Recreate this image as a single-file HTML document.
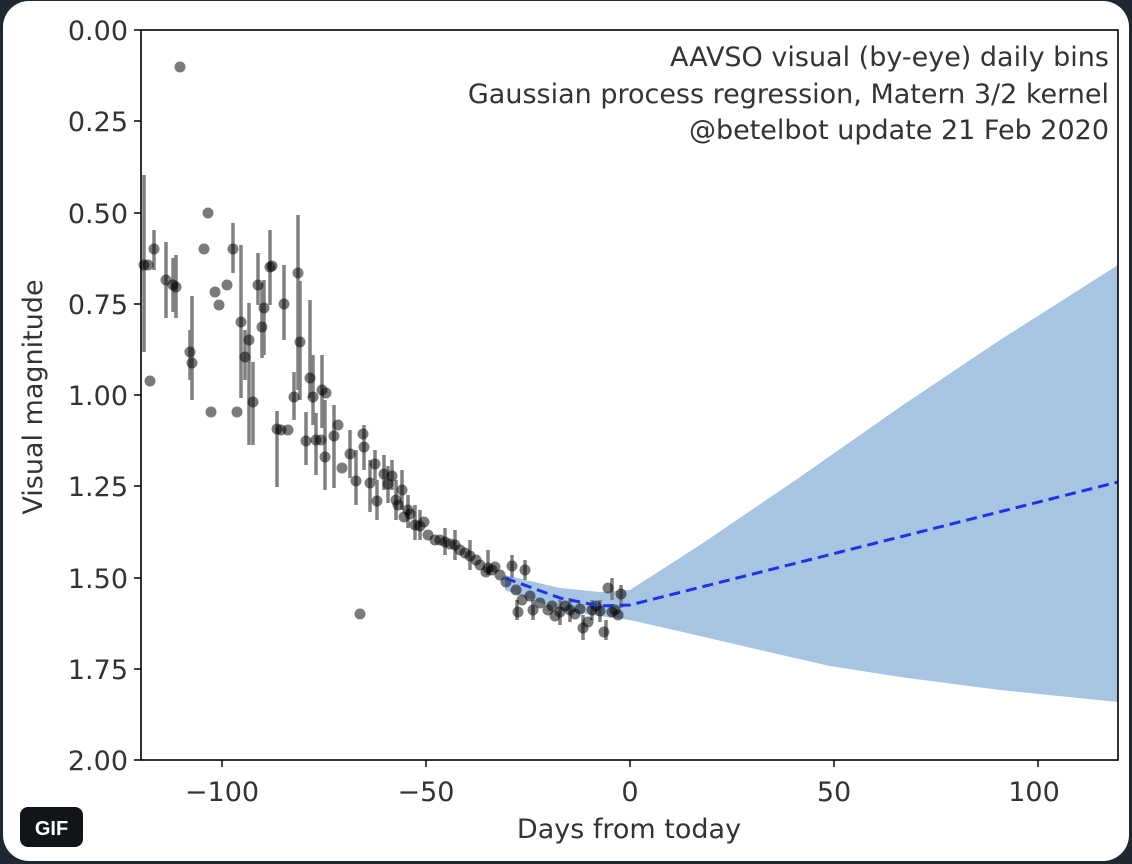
<!DOCTYPE html>
<html><head><meta charset="utf-8"><style>
html,body{margin:0;padding:0;background:#1e2732;width:1132px;height:864px;overflow:hidden}
</style></head><body>
<svg width="1132" height="864" xmlns="http://www.w3.org/2000/svg" font-family="DejaVu Sans, Liberation Sans, sans-serif">
<rect x="3" y="1" width="1126" height="860" rx="26" fill="#ffffff"/>
<path d="M505,575 L560,588 L600,592 L630,590 L700,545 L800,477 L900,407 L1000,340 L1118,265 L1118,702 L1000,690 L900,677 L830,666 L760,650 L700,636 L630,620 L600,616 L560,610 L505,590 Z" fill="#a7c4e2"/>
<g stroke="#808080" stroke-width="3.5" fill="none">
<path d="M144,175V352M154,230V270M166,242V318M173,258V312M176,255V318M192,296V400M190,330V380M233,223V273M241,245V398M249,303V445M245,330V380M253,362V445M258,253V305M262,283V358M264,280V355M270,230V305M284,265V340M298,215V390M300,281V400M310,300V398M294,372V420M277,411V487M306,412V465M316,413V475M325,400V490M322,355V428M334,405V488M313,355V425M350,430V478M356,450V505M364,425V470M370,460V512M375,450V480M377,480V520M384,455V490M388,466V503M392,460V490M396,480V520M402,470V510M408,495V528M415,505V540M420,510V540M445,528V555M455,530V560M470,540V570M488,550V575M512,555V578M525,560V580M517,600V620M533,600V620M560,600V625M570,598V622M583,615V640M592,600V620M600,600V622M606,620V640M612,578V600M621,585V608"/>
</g>
<g fill="rgba(0,0,0,0.52)">
<circle cx="144" cy="265" r="5.5"/><circle cx="148" cy="265" r="5.5"/><circle cx="154" cy="249" r="5.5"/><circle cx="150" cy="381" r="5.5"/>
<circle cx="166" cy="280" r="5.5"/><circle cx="173" cy="285" r="5.5"/><circle cx="176" cy="287" r="5.5"/><circle cx="180" cy="67" r="5.5"/>
<circle cx="192" cy="363" r="5.5"/><circle cx="190" cy="352" r="5.5"/><circle cx="208" cy="213" r="5.5"/><circle cx="204" cy="249" r="5.5"/>
<circle cx="211" cy="412" r="5.5"/><circle cx="215" cy="292" r="5.5"/><circle cx="219" cy="305" r="5.5"/><circle cx="227" cy="285" r="5.5"/>
<circle cx="233" cy="249" r="5.5"/><circle cx="237" cy="412" r="5.5"/><circle cx="241" cy="322" r="5.5"/><circle cx="245" cy="357" r="5.5"/>
<circle cx="249" cy="340" r="5.5"/><circle cx="253" cy="402" r="5.5"/><circle cx="258" cy="285" r="5.5"/><circle cx="262" cy="327" r="5.5"/>
<circle cx="264" cy="308" r="5.5"/><circle cx="270" cy="267" r="5.5"/><circle cx="272" cy="266" r="5.5"/><circle cx="277" cy="429" r="5.5"/>
<circle cx="281" cy="430" r="5.5"/><circle cx="288" cy="430" r="5.5"/><circle cx="284" cy="304" r="5.5"/><circle cx="298" cy="273" r="5.5"/>
<circle cx="300" cy="342" r="5.5"/><circle cx="294" cy="397" r="5.5"/><circle cx="306" cy="441" r="5.5"/><circle cx="310" cy="378" r="5.5"/>
<circle cx="313" cy="397" r="5.5"/><circle cx="316" cy="440" r="5.5"/><circle cx="321" cy="440" r="5.5"/><circle cx="322" cy="390" r="5.5"/>
<circle cx="325" cy="457" r="5.5"/><circle cx="326" cy="393" r="5.5"/><circle cx="334" cy="436" r="5.5"/><circle cx="338" cy="425" r="5.5"/>
<circle cx="342" cy="468" r="5.5"/><circle cx="350" cy="454" r="5.5"/><circle cx="356" cy="481" r="5.5"/><circle cx="360" cy="614" r="5.5"/>
<circle cx="363" cy="434" r="5.5"/><circle cx="364" cy="447" r="5.5"/><circle cx="370" cy="483" r="5.5"/><circle cx="375" cy="464" r="5.5"/>
<circle cx="377" cy="501" r="5.5"/><circle cx="384" cy="474" r="5.5"/><circle cx="388" cy="484" r="5.5"/><circle cx="392" cy="476" r="5.5"/>
<circle cx="396" cy="500" r="5.5"/><circle cx="398" cy="505" r="5.5"/><circle cx="402" cy="490" r="5.5"/><circle cx="404" cy="517" r="5.5"/>
<circle cx="408" cy="510" r="5.5"/><circle cx="410" cy="514" r="5.5"/><circle cx="415" cy="525" r="5.5"/><circle cx="420" cy="526" r="5.5"/>
<circle cx="424" cy="522" r="5.5"/><circle cx="428" cy="535" r="5.5"/><circle cx="435" cy="540" r="5.5"/><circle cx="440" cy="540" r="5.5"/>
<circle cx="445" cy="542" r="5.5"/><circle cx="450" cy="544" r="5.5"/><circle cx="455" cy="545" r="5.5"/><circle cx="460" cy="550" r="5.5"/>
<circle cx="465" cy="553" r="5.5"/><circle cx="470" cy="556" r="5.5"/><circle cx="476" cy="560" r="5.5"/><circle cx="480" cy="565" r="5.5"/>
<circle cx="486" cy="572" r="5.5"/><circle cx="488" cy="568" r="5.5"/><circle cx="492" cy="570" r="5.5"/><circle cx="495" cy="567" r="5.5"/>
<circle cx="500" cy="575" r="5.5"/><circle cx="506" cy="582" r="5.5"/><circle cx="512" cy="566" r="5.5"/><circle cx="516" cy="590" r="5.5"/>
<circle cx="525" cy="570" r="5.5"/><circle cx="518" cy="612" r="5.5"/><circle cx="522" cy="600" r="5.5"/><circle cx="530" cy="596" r="5.5"/>
<circle cx="533" cy="610" r="5.5"/><circle cx="540" cy="603" r="5.5"/><circle cx="548" cy="610" r="5.5"/><circle cx="552" cy="606" r="5.5"/>
<circle cx="555" cy="616" r="5.5"/><circle cx="560" cy="612" r="5.5"/><circle cx="565" cy="606" r="5.5"/><circle cx="570" cy="610" r="5.5"/>
<circle cx="575" cy="614" r="5.5"/><circle cx="580" cy="609" r="5.5"/><circle cx="583" cy="628" r="5.5"/><circle cx="588" cy="622" r="5.5"/>
<circle cx="592" cy="610" r="5.5"/><circle cx="596" cy="606" r="5.5"/><circle cx="600" cy="611" r="5.5"/><circle cx="604" cy="632" r="5.5"/>
<circle cx="608" cy="588" r="5.5"/><circle cx="612" cy="612" r="5.5"/><circle cx="615" cy="610" r="5.5"/><circle cx="618" cy="615" r="5.5"/>
<circle cx="621" cy="594" r="5.5"/>
</g>
<path d="M505,578 L560,598 L600,606 L630,605 L1118,482" stroke="#1f32e6" stroke-width="3" fill="none" stroke-dasharray="11,6"/>
<rect x="141" y="30" width="977" height="730" fill="none" stroke="#000" stroke-width="1.6"/>
<g stroke="#000" stroke-width="1.4">
<path d="M141,30h-7M141,121h-7M141,213h-7M141,304h-7M141,395h-7M141,486h-7M141,578h-7M141,669h-7M141,760h-7"/>
<path d="M222,760v7M426,760v7M630,760v7M834,760v7M1038,760v7"/>
</g>
<g font-size="27" fill="#333" text-anchor="end" textLength="64">
<text x="128" y="40">0.00</text><text x="128" y="131">0.25</text><text x="128" y="223">0.50</text><text x="128" y="314">0.75</text>
<text x="128" y="405">1.00</text><text x="128" y="496">1.25</text><text x="128" y="588">1.50</text><text x="128" y="679">1.75</text><text x="128" y="770">2.00</text>
</g>
<g font-size="27" fill="#333" text-anchor="middle">
<text x="222" y="801">−100</text><text x="426" y="801">−50</text><text x="630" y="801">0</text><text x="834" y="801">50</text><text x="1034" y="801">100</text>
<text x="629" y="838">Days from today</text>
</g>
<text transform="translate(42,397) rotate(-90)" font-size="27" fill="#333" text-anchor="middle">Visual magnitude</text>
<g font-size="27" fill="#333" text-anchor="end">
<text x="1109" y="66">AAVSO visual (by-eye) daily bins</text>
<text x="1109" y="103">Gaussian process regression, Matern 3/2 kernel</text>
<text x="1109" y="139">@betelbot update 21 Feb 2020</text>
</g>
<rect x="20" y="807" width="63" height="40" rx="8" fill="#111418"/>
<text x="51.5" y="835" font-size="20" font-weight="bold" fill="#fff" text-anchor="middle" font-family="Liberation Sans, sans-serif">GIF</text>
</svg>
</body></html>
